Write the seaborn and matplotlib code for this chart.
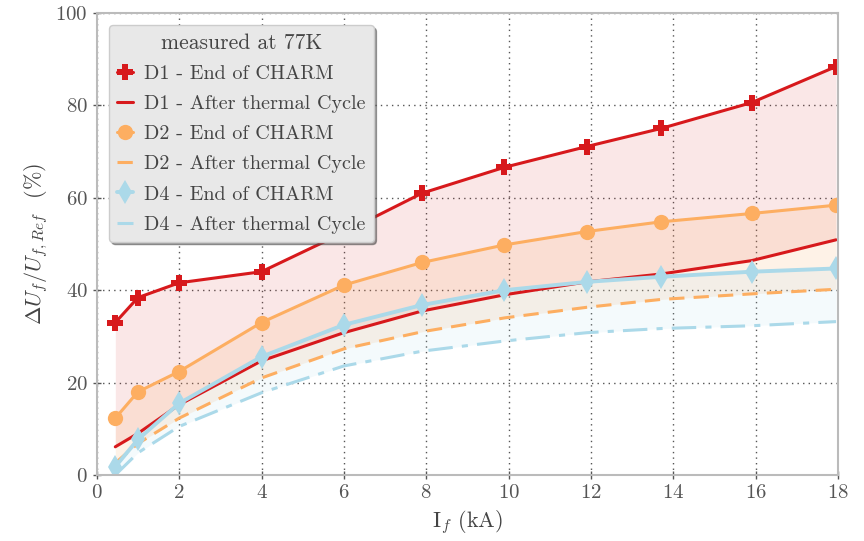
import numpy as np
import pandas as pd
import seaborn as sns
import matplotlib.pyplot as plt

# currents (kA)
current = [0.45, 1.0, 2.0, 4.0, 6.0, 7.9, 9.9, 11.9, 13.7, 15.9, 17.95]

d1_charm = [33.0, 38.4, 41.6, 44.0, 52.5, 61.0, 66.6, 71.1, 75.0, 80.6, 88.4]
d1_cycle = [6.1, 9.0, 15.2, 24.7, 30.8, 35.5, 39.0, 41.8, 43.5, 46.4, 50.9]
d2_charm = [12.3, 18.0, 22.4, 33.0, 41.1, 46.0, 49.8, 52.7, 54.8, 56.6, 58.4]
d2_cycle = [2.6, 6.8, 12.3, 21.0, 27.3, 31.0, 34.0, 36.3, 38.0, 39.2, 40.2]
d4_charm = [1.8, 7.7, 15.5, 25.6, 32.5, 36.8, 40.0, 41.8, 42.9, 44.0, 44.7]
d4_cycle = [0.0, 4.8, 10.5, 17.8, 23.6, 26.8, 29.0, 30.8, 31.7, 32.3, 33.2]

red = '#d7191c'
orange = '#fdae61'
blue = '#abd9e9'

sns.set_theme(style='whitegrid')
plt.rcParams['font.family'] = ['cmr10', 'DejaVu Serif']
plt.rcParams['mathtext.fontset'] = 'cm'
plt.rcParams['axes.formatter.use_mathtext'] = True
plt.rcParams['axes.unicode_minus'] = False

fig = plt.figure(figsize=(8.64, 5.41), dpi=100)
ax = fig.add_axes([0.112, 0.122, 0.858, 0.854])

df = pd.DataFrame({'I': current, 'd1c': d1_charm, 'd1t': d1_cycle,
                   'd2c': d2_charm, 'd2t': d2_cycle,
                   'd4c': d4_charm, 'd4t': d4_cycle})

ax.fill_between(df['I'], df['d1c'], df['d1t'], color=red, alpha=0.1, lw=0)
ax.fill_between(df['I'], df['d2c'], df['d2t'], color=orange, alpha=0.15, lw=0)
ax.fill_between(df['I'], df['d4c'], df['d4t'], color=blue, alpha=0.12, lw=0)

sns.lineplot(data=df, x='I', y='d1c', ax=ax, color=red, lw=2.2, marker='P',
             markersize=11, markeredgewidth=0, label='D1 - End of CHARM')
sns.lineplot(data=df, x='I', y='d1t', ax=ax, color=red, lw=2.2,
             label='D1 - After thermal Cycle')
sns.lineplot(data=df, x='I', y='d2c', ax=ax, color=orange, lw=2.2, marker='o',
             markersize=11, markeredgewidth=0, label='D2 - End of CHARM')
sns.lineplot(data=df, x='I', y='d2t', ax=ax, color=orange, lw=2.2,
             linestyle=(0, (5, 3)), label='D2 - After thermal Cycle')
sns.lineplot(data=df, x='I', y='d4c', ax=ax, color=blue, lw=2.8, marker='d',
             markersize=12, markeredgewidth=0, label='D4 - End of CHARM')
sns.lineplot(data=df, x='I', y='d4t', ax=ax, color=blue, lw=2.2,
             linestyle=(0, (8, 3, 2, 3)), label='D4 - After thermal Cycle')

ax.set_xlim(0, 18)
ax.set_ylim(0, 100)
ax.set_xticks(range(0, 19, 2))
ax.set_yticks(range(0, 101, 20))
ax.grid(True, linestyle=(0, (1, 3)), color='#555555', lw=1.0)
for s in ax.spines.values():
    s.set_color('#bbbbbb')
    s.set_linewidth(1.5)
ax.tick_params(colors='#555555', labelsize=15, direction='inout', length=6,
               width=1, bottom=True, left=True)
ax.set_xlabel(r'I$_f$ (kA)', fontsize=16, color='#444444')
ax.set_ylabel(r'$\Delta U_f/U_{f,Ref}$  (%)', fontsize=16, color='#444444')

leg = ax.legend(loc='upper left', title='measured at 77K', fontsize=14.5,
                title_fontsize=15.5, frameon=True, shadow=True, fancybox=True,
                facecolor='#e8e8e8', edgecolor='#cccccc', framealpha=1,
                handlelength=0.8, handletextpad=0.55, labelspacing=0.6,
                borderaxespad=0.6)
for t in leg.get_texts():
    t.set_color('#444444')
leg.get_title().set_color('#444444')

fig.savefig('out.png', dpi=100)
